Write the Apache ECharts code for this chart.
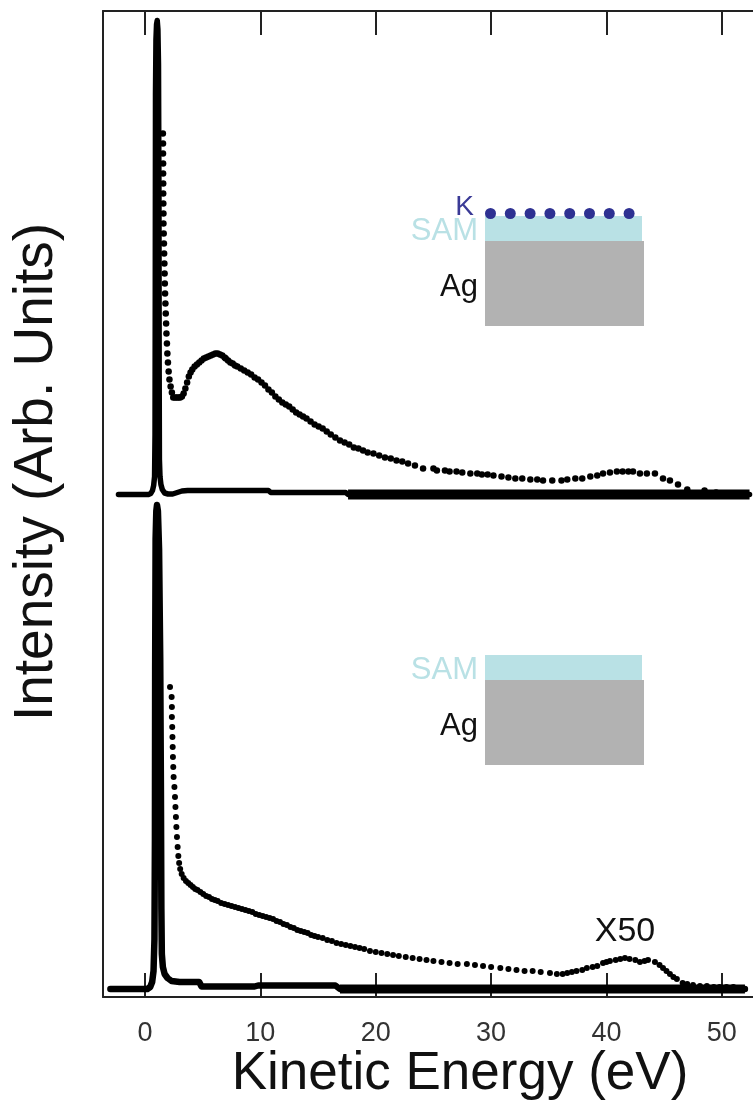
<!DOCTYPE html>
<html><head><meta charset="utf-8">
<script src="https://cdn.jsdelivr.net/npm/echarts@6/dist/echarts.min.js"></script>
<style>html,body{margin:0;padding:0;background:#fff}#c{width:753px;height:1103px}</style>
</head><body><div id="c"></div><script>
// ---- axis ----
const xTicks = [0, 10, 20, 30, 40, 50];
const xMin = -3.64, xMax = 52.7;

// ---- upper panel (K / SAM / Ag) ----
const topSolidE = [-2.3, 0.3, 0.5, 0.65, 0.75, 0.83, 0.87, 0.89, 0.91, 0.95, 1.0, 1.06, 1.12, 1.17, 1.21, 1.23, 1.25, 1.3, 1.38, 1.5, 1.7, 2.0, 2.4, 2.8, 3.2, 3.7, 6.0, 10.7, 10.9, 17.4, 17.6, 52.4];
const topSolidI = [0, 0, 1, 4, 9, 18, 60, 200, 400, 455, 470, 474, 465, 430, 300, 120, 35, 18, 10, 5, 1.5, 0.5, 0.5, 2, 3.5, 4, 4, 4, 2, 2, 0, 0];

const topDotE = [1.55, 1.56, 1.56, 1.57, 1.57, 1.58, 1.58, 1.59, 1.60, 1.60, 1.62, 1.64, 1.66, 1.68, 1.70, 1.72, 1.74, 1.77, 1.80, 1.83, 1.86, 1.90, 1.94, 1.99, 2.05, 2.12, 2.22, 2.33,
  2.45, 2.60, 2.75, 2.90, 3.05, 3.20, 3.35,
  3.5, 3.65, 3.8, 3.95, 4.1, 4.3, 4.5, 4.7, 4.9, 5.1, 5.3, 5.5, 5.7, 5.9, 6.1, 6.3, 6.5, 6.7, 6.9,
  7.0, 7.2, 7.4, 7.6, 7.8, 8.0, 8.3, 8.6, 8.9, 9.2, 9.5, 9.8, 10.1, 10.4, 10.7, 11.0, 11.3, 11.6, 11.9, 12.2, 12.5, 12.8, 13.1, 13.4, 13.7, 14.0, 14.35, 14.7, 15.05, 15.4, 15.75, 16.1, 16.5, 16.9, 17.3, 17.7, 18.1, 18.5, 18.9, 19.3, 19.8, 20.3, 20.8, 21.3, 21.8, 22.3, 22.8, 23.4,
  24.1, 25.0, 25.3, 26.0, 26.4, 27.0, 27.5, 28.2, 28.8, 29.2, 29.7, 30.2, 30.9, 31.5, 32.1, 32.7, 33.4, 34.0, 34.5, 35.3, 36.1, 36.6, 37.3, 37.9, 38.6, 39.2, 39.7, 40.3, 40.9, 41.4, 41.9, 42.3, 42.9, 43.5, 44.2, 44.9, 45.5, 46.2, 47.0, 48.5, 49.5, 50.5, 51.5];
const topDotI = [361, 351, 341, 331, 321, 311, 301, 291, 281, 271, 261, 251, 241, 231, 221, 211, 201, 191, 181, 171, 161, 151, 141, 132, 123, 115, 108, 102,
  97, 97, 97, 97, 97, 98, 101,
  106, 112, 118, 122, 125, 128, 130, 132, 134, 136, 137, 138, 139, 140, 141, 141, 140, 139, 137,
  136, 134, 132, 131, 129, 128, 126, 124, 122, 120, 117, 115, 112, 109, 105, 102, 98, 95, 92, 90, 88, 85, 82, 80, 78, 76, 73, 70, 68, 66, 63, 60, 57, 54, 52, 50, 47, 46, 44, 42, 41, 39, 37, 36, 34, 33, 31, 29,
  26, 26, 24, 24, 23, 23, 22, 21, 21, 20, 20, 19, 18, 17, 16, 16, 15, 15, 14, 14, 14, 15, 16, 16, 18, 19, 21, 22, 23, 23, 23, 23, 21, 21, 21, 16, 14, 10, 5, 4, 2, 1, 1];

// ---- lower panel (SAM / Ag) ----
const botSolidE = [-3.0, 0.2, 0.45, 0.62, 0.74, 0.82, 0.86, 0.88, 0.92, 0.98, 1.04, 1.12, 1.22, 1.32, 1.38, 1.42, 1.46, 1.55, 1.7, 1.95, 2.3, 3.0, 4.7, 4.9, 9.5, 9.8, 16.5, 16.9, 52.0];
const botSolidI = [0, 0, 2, 7, 18, 50, 150, 320, 450, 478, 484, 478, 440, 330, 200, 80, 35, 22, 15, 11, 8, 7, 7, 2.5, 2.5, 3.5, 3.5, 0, 0];

const botDotE = [2.17, 2.31, 2.33, 2.33, 2.36, 2.38, 2.40, 2.42, 2.45, 2.48, 2.55, 2.60, 2.64, 2.68, 2.72, 2.77, 2.83, 2.89, 2.96, 3.05, 3.18, 3.35,
  3.55, 3.75, 3.95, 4.15, 4.35, 4.55, 4.8, 5.05, 5.3, 5.55, 5.8, 6.05, 6.3, 6.6, 6.9, 7.2, 7.5, 7.8, 8.1, 8.4, 8.7, 9.0, 9.3, 9.6, 9.9, 10.2, 10.5, 10.8, 11.1, 11.4, 11.7, 12.0, 12.3, 12.6, 12.9, 13.2, 13.5, 13.8, 14.1, 14.4, 14.7, 15.0, 15.4, 15.8, 16.2, 16.6, 17.0, 17.4, 17.8, 18.2, 18.6, 19.0, 19.5, 20.0, 20.5, 21.0, 21.5, 22.0, 22.6, 23.2, 23.8,
  24.4, 25.0, 25.7, 26.4, 27.1, 27.9, 28.6, 29.3, 30.0, 30.8, 31.5, 32.2, 32.9, 33.6, 34.3, 35.1, 35.7, 36.2, 36.6, 37.0, 37.4, 37.9, 38.3, 38.8, 39.2, 39.7, 40.0, 40.3, 40.8, 41.2, 41.6, 42.0, 42.5, 42.9, 43.3, 43.6, 44.2, 44.6, 44.9, 45.2, 45.5, 45.8, 46.1, 46.6, 47.0, 47.5, 48.1, 48.7, 49.3, 49.8, 50.4, 51.0, 51.8];
const botDotI = [302, 292, 282, 272, 262, 252, 242, 232, 222, 212, 202, 192, 182, 172, 162, 152, 142, 133, 126, 120, 115, 111,
  108, 106, 104, 102, 100, 99, 97, 95, 93, 92, 90, 89, 88, 86, 85, 84, 83, 82, 81, 80, 79, 78, 77, 75, 74, 73, 72, 71, 70, 68, 67, 65, 64, 62, 61, 59, 58, 57, 56, 54, 53, 52, 51, 49, 48, 46, 45, 44, 43, 42, 41, 40, 38, 37, 36, 35, 34, 33, 32, 31, 30,
  29, 28, 27, 26, 25, 25, 24, 23, 22, 21, 20, 19, 18, 18, 17, 16, 15, 15, 16, 17, 18, 19, 21, 22, 23, 26, 27, 28, 29, 30, 31, 30, 29, 27, 28, 29, 27, 24, 21, 18, 15, 12, 10, 6, 5, 4, 3, 3, 2, 2, 2, 2, 1];

const scaleLabel = 'X50';

function pairs(e, v) { return e.map((x, k) => [x, v[k]]); }
const topSolid = pairs(topSolidE, topSolidI);
const botSolid = pairs(botSolidE, botSolidI);
const topTail = topSolid.filter(p => p[0] >= 17.6);
const botTail = botSolid.filter(p => p[0] >= 16.9);

const FONT = 'Liberation Sans, Arial, Helvetica, sans-serif';
const frameLine = { show: true, onZero: false, lineStyle: { color: '#222', width: 2 } };

const chart = echarts.init(document.getElementById('c'), null, { renderer: 'canvas' });

function inset(ySam, withK) {
  const els = [];
  els.push({ type: 'rect', shape: { x: 485, y: ySam, width: 157, height: 25 }, style: { fill: '#b9e1e5' } });
  els.push({ type: 'rect', shape: { x: 485, y: ySam + 25, width: 159, height: 85 }, style: { fill: '#b2b2b2' } });
  els.push({ type: 'text', style: { text: 'SAM', x: 478, y: ySam + 15, fontSize: 31, fontFamily: FONT, fill: '#b9e1e5', align: 'right', verticalAlign: 'middle' } });
  els.push({ type: 'text', style: { text: 'Ag', x: 478, y: ySam + 71, fontSize: 31, fontFamily: FONT, fill: '#111', align: 'right', verticalAlign: 'middle' } });
  if (withK) {
    for (let k = 0; k < 8; k++) {
      els.push({ type: 'circle', shape: { cx: 490.5 + k * 19.8, cy: ySam - 2.5, r: 5.5 }, style: { fill: '#2e3192' } });
    }
    els.push({ type: 'text', style: { text: 'K', x: 474, y: ySam - 9, fontSize: 28, fontFamily: FONT, fill: '#3a3a96', align: 'right', verticalAlign: 'middle' } });
  }
  return els;
}

const option = {
  backgroundColor: '#fff',
  animation: false,
  grid: [
    { left: 103, right: 0, top: 11, bottom: 106 },
    { left: 103, right: 0, top: 11, height: 489 },
    { left: 103, right: 0, top: 500, height: 497 }
  ],
  xAxis: [
    { gridIndex: 0, type: 'value', min: xMin, max: xMax, show: false },
    { gridIndex: 1, type: 'value', position: 'top', min: xMin, max: xMax,
      axisLine: frameLine,
      axisTick: { show: true, inside: true, length: 24, lineStyle: { color: '#222', width: 2 }, customValues: xTicks },
      axisLabel: { show: false }, splitLine: { show: false } },
    { gridIndex: 2, type: 'value', position: 'bottom', min: xMin, max: xMax,
      axisLine: frameLine,
      axisTick: { show: true, inside: true, length: 24, lineStyle: { color: '#222', width: 2 }, customValues: xTicks },
      axisLabel: { show: true, customValues: xTicks, margin: 23, fontSize: 27, fontFamily: FONT, color: '#333' },
      splitLine: { show: false },
      name: 'Kinetic Energy (eV)', nameLocation: 'middle', nameGap: 46,
      nameTextStyle: { fontSize: 53, fontFamily: FONT, color: '#111', padding: [0, 0, 0, 64] } }
  ],
  yAxis: [
    { gridIndex: 0, type: 'value', min: 0, max: 1, axisLine: frameLine, axisTick: { show: false }, axisLabel: { show: false }, splitLine: { show: false },
      name: 'Intensity (Arb. Units)', nameLocation: 'middle', nameGap: 39,
      nameTextStyle: { fontSize: 55, fontFamily: FONT, color: '#111', padding: [0, 0, 0, 64] } },
    { gridIndex: 1, type: 'value', min: -5.5, max: 483.5, show: false },
    { gridIndex: 2, type: 'value', min: -8, max: 489, show: false }
  ],
  series: [
    { type: 'line', xAxisIndex: 1, yAxisIndex: 1, data: topSolid, showSymbol: false, clip: false, lineStyle: { color: '#000', width: 5.5, cap: 'round', join: 'round' }, z: 2 },
    { type: 'line', xAxisIndex: 1, yAxisIndex: 1, data: topTail, showSymbol: false, clip: false, lineStyle: { color: '#000', width: 10 }, z: 2 },
    { type: 'scatter', xAxisIndex: 1, yAxisIndex: 1, data: pairs(topDotE, topDotI), symbol: 'circle', symbolSize: 6.5, itemStyle: { color: '#000', opacity: 1 }, z: 3 },
    { type: 'line', xAxisIndex: 2, yAxisIndex: 2, data: botSolid, showSymbol: false, clip: false, lineStyle: { color: '#000', width: 6.5, cap: 'round', join: 'round' }, z: 2 },
    { type: 'line', xAxisIndex: 2, yAxisIndex: 2, data: botTail, showSymbol: false, clip: false, lineStyle: { color: '#000', width: 9 }, z: 2 },
    { type: 'scatter', xAxisIndex: 2, yAxisIndex: 2, data: pairs(botDotE, botDotI), symbol: 'circle', symbolSize: 6, itemStyle: { color: '#000', opacity: 1 }, z: 3 }
  ],
  graphic: { elements: [].concat(inset(216, true), inset(655, false), [
    { type: 'text', style: { text: scaleLabel, x: 625, y: 932, fontSize: 34, fontFamily: FONT, fill: '#111', align: 'center', verticalAlign: 'middle' } }
  ]) }
};
chart.setOption(option);
</script></body></html>
